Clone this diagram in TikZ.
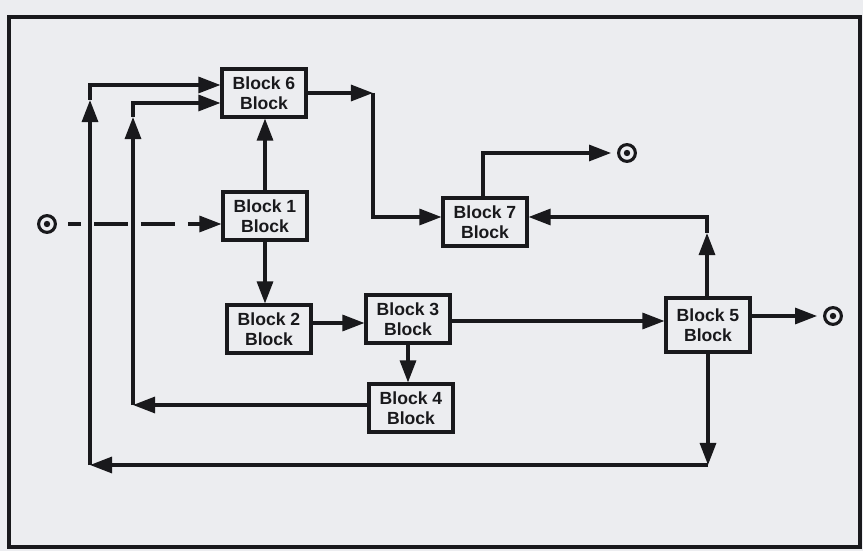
\documentclass[tikz,border=0pt]{standalone}
\usepackage{fontspec}
\setmainfont{Liberation Sans}
\usetikzlibrary{arrows.meta,positioning}
\definecolor{scanbg}{RGB}{236,237,240}
\definecolor{scanink}{RGB}{25,25,28}

\begin{document}
\begin{tikzpicture}[x=0.025cm, y=-0.025cm, line width=2.2pt, color=scanink,
    >={Triangle[length=0.55cm, width=0.4cm]},
    block/.style={draw, rectangle, minimum width=2.1cm, minimum height=1.2cm,
      inner sep=1pt, align=center, font=\fontsize{12.5}{14.5}\selectfont\bfseries},
    port/.style={draw, circle, minimum size=0.42cm, inner sep=0pt,
      path picture={\fill (path picture bounding box.center) circle (0.08cm);}}]
  % page and frame
  \fill[scanbg] (0,0) rectangle (863,551);
  \useasboundingbox (0,0) rectangle (863,551);
  \draw (9,17) rectangle (860,547);

  % blocks
  \node[block] (b6) at (264,93) {Block 6\\Block};
  \node[block] (b1) at (265,216) {Block 1\\Block};
  \node[block] (b2) at (269,329) {Block 2\\Block};
  \node[block] (b3) at (408,319) {Block 3\\Block};
  \node[block] (b4) at (411,408) {Block 4\\Block};
  \node[block, minimum height=1.35cm] (b5) at (708,325) {Block 5\\Block};
  \node[block] (b7) at (485,222) {Block 7\\Block};

  % input and outputs
  \node[port] (in) at (47,224) {};
  \node[port] (out1) at (627,153) {};
  \node[port] (out2) at (833,316) {};

  % forward paths
  \draw[->, dash pattern=on 0.85cm off 0.32cm, dash phase=0.52cm, shorten <=0.28cm] (in) -- (in -| b1.west);
  \draw[->] (b1.north) -- (b1.north |- b6.south);
  \draw[->] (b1.south) -- (b1.south |- b2.north);
  \draw[->] (b2.east |- 0,323) -- (b3.west |- 0,323);
  \draw[->] (b3.east |- 0,321) -- (b5.west |- 0,321);
  \draw[->] (b3.south) -- (b3.south |- b4.north);
  \draw[->, shorten >=0.15cm] (b5.east |- out2) -- (out2);

  \coordinate (k6) at (373,93);
  \draw[->] (b6.east |- k6) -- (k6);
  \draw[->] (k6) |- (b7.west |- 0,217);
  \draw[->, shorten >=0.15cm] (b7.north -| 483,0) |- (out1);

  % feedback paths
  \coordinate (k5) at (707,233);
  \draw[->] (b5.north -| k5) -- (k5);
  \draw[->] (k5) |- (b7.east |- 0,217);

  \coordinate (k4) at (133,405);
  \coordinate (k4u) at (133,117);
  \draw[->] (b4.west |- k4) -- (k4);
  \draw[->] (k4) -- (k4u);
  \draw[->] (k4u) |- (b6.west |- 0,103);

  \coordinate (kb) at (708,465);
  \coordinate (kl) at (90,465);
  \coordinate (klu) at (90,100);
  \draw[->] (b5.south -| kb) -- (kb);
  \draw[->] (kb) -- (kl);
  \draw[->] (kl) -- (klu);
  \draw[->] (klu) |- (b6.west |- 0,85);
\end{tikzpicture}
\end{document}
